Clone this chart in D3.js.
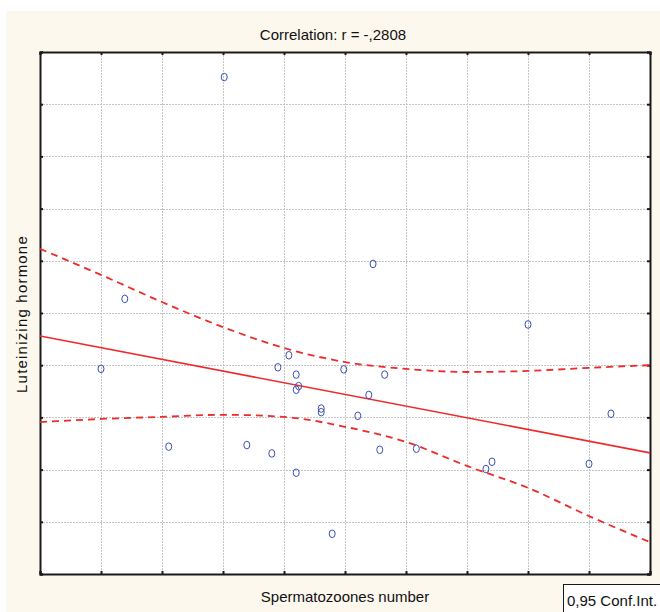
<!DOCTYPE html>
<html>
<head>
<meta charset="utf-8">
<script src="https://cdn.jsdelivr.net/npm/d3@7"></script>
<style>
  html, body { margin: 0; padding: 0; background: #ffffff; }
  svg { display: block; }
</style>
</head>
<body>
<script>
// ---- Data (arbitrary units) ----
const spermX = [3.02, 1.39, 1.00, 2.11, 3.39, 5.46, 8.00, 9.36, 7.41, 7.31, 9.00,
                4.08, 3.90, 4.20, 4.24, 4.20, 4.98, 5.65, 5.39, 4.61, 4.61, 5.21,
                3.80, 5.57, 6.17, 4.20, 4.79];
const lhY    = [9.52, 5.27, 3.93, 2.44, 2.47, 5.94, 4.78, 3.07, 2.15, 2.01, 2.11,
                4.19, 3.96, 3.82, 3.60, 3.53, 3.92, 3.82, 3.43, 3.17, 3.10, 3.03,
                2.31, 2.38, 2.40, 1.94, 0.77];
const fitX   = [0, 10];
const fitY   = [4.56, 2.32];
const bandX  = [0, 1, 2, 3, 4, 5, 6, 7, 8, 9, 10];
const upperY = [6.23, 5.73, 5.21, 4.73, 4.33, 4.06, 3.93, 3.87, 3.89, 3.95, 4.00];
const lowerY = [2.91, 2.97, 3.01, 3.05, 3.01, 2.82, 2.53, 2.07, 1.65, 1.11, 0.61];
const xTicks = [0, 1, 2, 3, 4, 5, 6, 7, 8, 9, 10];
const yTicks = [0, 1, 2, 3, 4, 5, 6, 7, 8, 9, 10];
const titleText = "Correlation: r = -,2808";
const xLabel = "Spermatozoones number";
const yLabel = "Luteinizing hormone";
const legendText = "0,95 Conf.Int.";

// ---- Layout ----
const W = 660, H = 612;
const plot = { left: 40, top: 52, right: 650, bottom: 574 };
const FONT = "'Liberation Sans Narrow', 'Arial Narrow', 'Liberation Sans', Arial, sans-serif";

const svg = d3.select("body").append("svg").attr("width", W).attr("height", H);

// cream background
svg.append("rect").attr("x", 6).attr("y", 11).attr("width", W - 6).attr("height", H - 11)
  .attr("fill", "#fcf8ee");

// plot area
svg.append("rect").attr("x", plot.left).attr("y", plot.top)
  .attr("width", plot.right - plot.left).attr("height", plot.bottom - plot.top)
  .attr("fill", "#ffffff");

const x = d3.scaleLinear().domain([0, 10]).range([plot.left, plot.right]);
const y = d3.scaleLinear().domain([0, 10]).range([plot.bottom, plot.top]);

// grid
const grid = svg.append("g").attr("stroke", "#c4c4c4").attr("stroke-width", 1)
  .attr("stroke-dasharray", "2,1").attr("shape-rendering", "crispEdges");
grid.selectAll("line.v").data(xTicks.slice(1, -1)).join("line")
  .attr("x1", d => Math.round(x(d)) + 0.5).attr("x2", d => Math.round(x(d)) + 0.5)
  .attr("y1", plot.top).attr("y2", plot.bottom);
grid.selectAll("line.h").data(yTicks.slice(1, -1)).join("line")
  .attr("y1", d => Math.round(y(d)) + 0.5).attr("y2", d => Math.round(y(d)) + 0.5)
  .attr("x1", plot.left).attr("x2", plot.right);

// axes with inward ticks on all sides
const tl = 3;
const axB = d3.axisBottom(x).tickValues(xTicks).tickSize(-tl).tickFormat("");
const axT = d3.axisTop(x).tickValues(xTicks).tickSize(-tl).tickFormat("");
const axL = d3.axisLeft(y).tickValues(yTicks).tickSize(-tl).tickFormat("");
const axR = d3.axisRight(y).tickValues(yTicks).tickSize(-tl).tickFormat("");
function styleAxis(g) {
  g.selectAll(".domain").attr("stroke", "#1a1a1a").attr("stroke-width", 2);
  g.selectAll(".tick line").attr("stroke", "#1a1a1a").attr("stroke-width", 2);
}
svg.append("g").attr("transform", `translate(0,${plot.bottom})`).call(axB).call(styleAxis);
svg.append("g").attr("transform", `translate(0,${plot.top})`).call(axT).call(styleAxis);
svg.append("g").attr("transform", `translate(${plot.left},0)`).call(axL).call(styleAxis);
svg.append("g").attr("transform", `translate(${plot.right},0)`).call(axR).call(styleAxis);

// confidence bands
const red = "#ee2a2a";
const lineGen = d3.line().x(d => x(d[0])).y(d => y(d[1]));
const curveGen = d3.line().x(d => x(d[0])).y(d => y(d[1])).curve(d3.curveMonotoneX);
svg.append("clipPath").attr("id", "pc").append("rect")
  .attr("x", plot.left).attr("y", plot.top)
  .attr("width", plot.right - plot.left).attr("height", plot.bottom - plot.top);
const lines = svg.append("g").attr("clip-path", "url(#pc)");
[upperY, lowerY].forEach(arr => {
  lines.append("path").datum(bandX.map((v, i) => [v, arr[i]]))
    .attr("d", curveGen).attr("fill", "none").attr("stroke", red)
    .attr("stroke-width", 1.8).attr("stroke-dasharray", "7,5");
});
// fitted regression line
lines.append("path").datum(fitX.map((v, i) => [v, fitY[i]]))
  .attr("d", lineGen).attr("fill", "none").attr("stroke", red).attr("stroke-width", 1.6);

// points
svg.append("g").selectAll("ellipse").data(spermX.map((v, i) => [v, lhY[i]])).join("ellipse")
  .attr("cx", d => x(d[0])).attr("cy", d => y(d[1]))
  .attr("rx", 3).attr("ry", 3.8)
  .attr("fill", "none").attr("stroke", "#3a4fb4").attr("stroke-width", 1);

// texts
svg.append("text").attr("x", 333).attr("y", 40).attr("text-anchor", "middle")
  .attr("font-family", FONT).attr("font-size", 15).attr("fill", "#111").text(titleText);
svg.append("text").attr("x", 345).attr("y", 602).attr("text-anchor", "middle")
  .attr("font-family", FONT).attr("font-size", 15).attr("fill", "#111").text(xLabel);
svg.append("text").attr("transform", "translate(27,314) rotate(-90)").attr("text-anchor", "middle")
  .attr("font-family", FONT).attr("font-size", 15).attr("letter-spacing", 1.2)
  .attr("fill", "#111").text(yLabel);

// legend box
svg.append("rect").attr("x", 563.5).attr("y", 584.5).attr("width", 110).attr("height", 40)
  .attr("fill", "#ffffff").attr("stroke", "#1a1a1a").attr("stroke-width", 1);
svg.append("text").attr("x", 567).attr("y", 606)
  .attr("font-family", FONT).attr("font-size", 15).attr("fill", "#111").text(legendText);
</script>
</body>
</html>
